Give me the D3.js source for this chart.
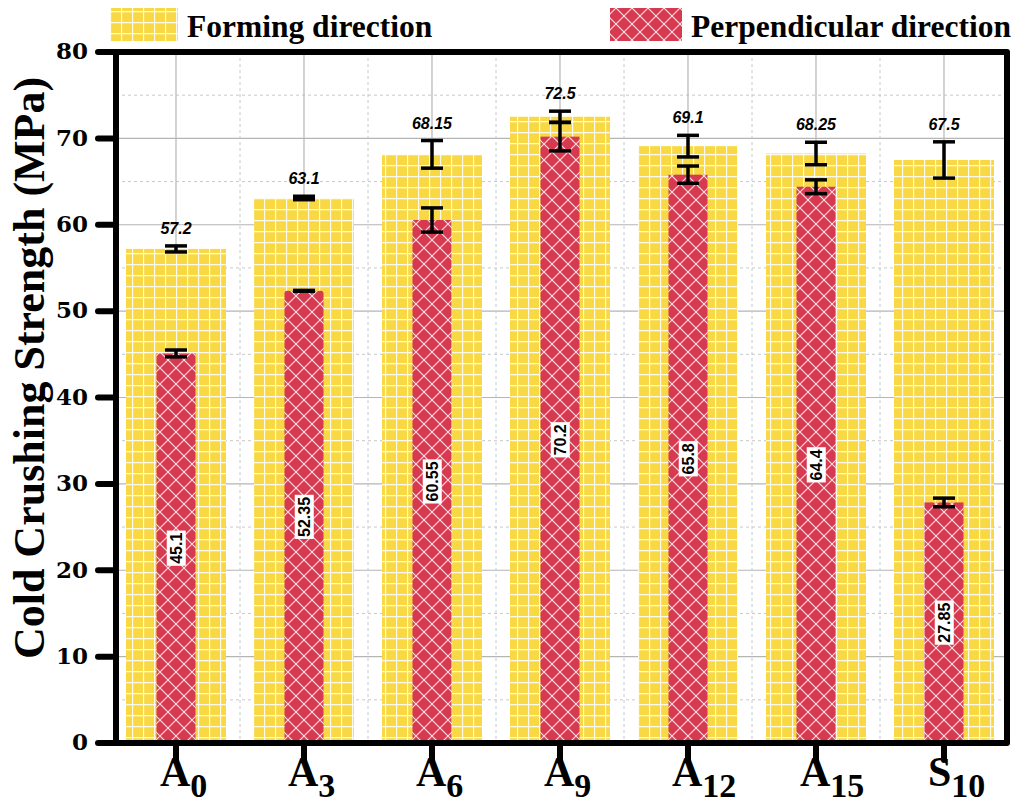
<!DOCTYPE html>
<html>
<head>
<meta charset="utf-8">
<script src="https://cdn.jsdelivr.net/npm/d3@7"></script>
<style>
  body { margin: 0; background: #fff; }
  svg { display: block; }
</style>
</head>
<body>
<div id="chart"></div>
<script>
// data
const categories = ["A0", "A3", "A6", "A9", "A12", "A15", "S10"];
const catLetter = ["A", "A", "A", "A", "A", "A", "S"];
const catSub = ["0", "3", "6", "9", "12", "15", "10"];
const forming = [57.2, 63.1, 68.15, 72.5, 69.1, 68.25, 67.5];
const formingErr = [0.35, 0.2, 1.6, 0.65, 1.25, 1.3, 2.1];
const perpendicular = [45.1, 52.35, 60.55, 70.2, 65.8, 64.4, 27.85];
const perpErr = [0.4, 0.05, 1.4, 1.65, 1.0, 0.8, 0.5];
const yTicks = [0, 10, 20, 30, 40, 50, 60, 70, 80];

var width = 1016, height = 808;
var plot = {left: 116, right: 1007, top: 52, bottom: 743};

var yellow = "#F8D944", red = "#D73A50";

var svg = d3.select("#chart").append("svg")
    .attr("width", width)
    .attr("height", height);

var x = d3.scaleBand().domain(categories).range([112, 1008]).padding(0);
var y = d3.scaleLinear().domain([0, 80]).range([plot.bottom, plot.top]);

// patterns
var defs = svg.append("defs");
var pg = defs.append("pattern").attr("id", "grid").attr("patternUnits", "userSpaceOnUse")
    .attr("width", 11).attr("height", 11);
pg.append("rect").attr("width", 11).attr("height", 11).attr("fill", yellow);
pg.append("path").attr("d", "M0,0.5H11M0.5,0V11").attr("stroke", "#fff").attr("stroke-width", 1.3).attr("opacity", 0.9);

var s = 16;
var ph = defs.append("pattern").attr("id", "hatch").attr("patternUnits", "userSpaceOnUse")
    .attr("width", s).attr("height", s);
ph.append("rect").attr("width", s).attr("height", s).attr("fill", red);
ph.append("path")
    .attr("d", `M0,0L${s},${s}M${s},0L0,${s}M${-s/2},${s/2}L${s/2},${1.5*s}M${s/2},${-s/2}L${1.5*s},${s/2}M${s/2},${1.5*s}L${1.5*s},${s/2}M${-s/2},${s/2}L${s/2},${-s/2}`)
    .attr("stroke", "#fff").attr("stroke-width", 1.1).attr("opacity", 0.85);

// gridlines
var g = svg.append("g");
g.selectAll(".hmajor").data(yTicks).enter().append("line")
    .attr("x1", plot.left).attr("x2", plot.right)
    .attr("y1", d => y(d)).attr("y2", d => y(d))
    .attr("stroke", "#b5b5b5").attr("stroke-width", 1.2);
g.selectAll(".hminor").data(yTicks.slice(0, -1).map(d => d + 5)).enter().append("line")
    .attr("x1", plot.left).attr("x2", plot.right)
    .attr("y1", d => y(d)).attr("y2", d => y(d))
    .attr("stroke", "#c8c8c8").attr("stroke-width", 1).attr("stroke-dasharray", "3,3");
g.selectAll(".vmajor").data(categories).enter().append("line")
    .attr("x1", d => x(d) + x.bandwidth() / 2).attr("x2", d => x(d) + x.bandwidth() / 2)
    .attr("y1", plot.top).attr("y2", plot.bottom)
    .attr("stroke", "#b5b5b5").attr("stroke-width", 1.2);
g.selectAll(".vminor").data(categories.slice(1)).enter().append("line")
    .attr("x1", d => x(d)).attr("x2", d => x(d))
    .attr("y1", plot.top).attr("y2", plot.bottom)
    .attr("stroke", "#c8c8c8").attr("stroke-width", 1).attr("stroke-dasharray", "3,3");

var cx = i => x(categories[i]) + x.bandwidth() / 2;
var wF = 100, wP = 39;

// forming bars
svg.selectAll(".barF").data(forming).enter().append("rect")
    .attr("x", (d, i) => cx(i) - wF / 2)
    .attr("y", d => y(d))
    .attr("width", wF)
    .attr("height", d => plot.bottom - y(d))
    .attr("fill", "url(#grid)");

// perpendicular bars
svg.selectAll(".barP").data(perpendicular).enter().append("rect")
    .attr("x", (d, i) => cx(i) - wP / 2)
    .attr("y", d => y(d))
    .attr("width", wP)
    .attr("height", d => plot.bottom - y(d))
    .attr("fill", "url(#hatch)");

// error bars
function errBars(vals, errs) {
    var eg = svg.append("g").attr("stroke", "#000").attr("stroke-width", 3.5);
    vals.forEach(function(v, i) {
        var c = cx(i), hi = y(v + errs[i]), lo = y(v - errs[i]);
        eg.append("line").attr("x1", c).attr("x2", c).attr("y1", hi).attr("y2", lo);
        eg.append("line").attr("x1", c - 11).attr("x2", c + 11).attr("y1", hi).attr("y2", hi);
        eg.append("line").attr("x1", c - 11).attr("x2", c + 11).attr("y1", lo).attr("y2", lo);
    });
}
errBars(forming, formingErr);
errBars(perpendicular, perpErr);

// value labels above forming bars
svg.selectAll(".lblF").data(forming).enter().append("text")
    .attr("x", (d, i) => cx(i))
    .attr("y", (d, i) => y(d + formingErr[i]) - 12)
    .attr("text-anchor", "middle")
    .style("font-family", "'Liberation Sans', Arial, sans-serif")
    .style("font-weight", "bold").style("font-style", "italic")
    .style("font-size", "16px")
    .text(d => d);

// rotated labels inside perpendicular bars
perpendicular.forEach(function(v, i) {
    var lg = svg.append("g")
        .attr("transform", "translate(" + cx(i) + "," + ((y(v) + plot.bottom) / 2) + ") rotate(-90)");
    var t = lg.append("text")
        .attr("text-anchor", "middle").attr("dy", "0.36em")
        .style("font-family", "'Liberation Sans', Arial, sans-serif")
        .style("font-size", "16px").style("font-weight", "bold")
        .text(v);
    var bb = t.node().getBBox();
    lg.insert("rect", "text")
        .attr("x", bb.x - 2).attr("y", bb.y - 1)
        .attr("width", bb.width + 4).attr("height", bb.height + 2)
        .attr("fill", "#fff");
});

// frame
svg.append("path")
    .attr("d", "M" + plot.left + "," + plot.bottom + "V" + plot.top + "H" + plot.right + "V" + plot.bottom + "Z")
    .attr("fill", "none").attr("stroke", "#000").attr("stroke-width", 6).attr("stroke-linejoin", "round");

// y axis ticks + labels
svg.selectAll(".ytick").data(yTicks).enter().append("line")
    .attr("x1", plot.left - 18).attr("x2", plot.left)
    .attr("y1", d => y(d)).attr("y2", d => y(d))
    .attr("stroke", "#000").attr("stroke-width", 6).attr("stroke-linecap", "round");
svg.selectAll(".ylbl").data(yTicks).enter().append("text")
    .attr("x", 88).attr("y", d => y(d)).attr("dy", "0.32em")
    .attr("text-anchor", "end")
    .style("font-family", "'DejaVu Serif', Georgia, serif")
    .style("font-weight", "bold").style("font-size", "23px")
    .text(d => d);

// x axis ticks + labels
svg.selectAll(".xtick").data(categories).enter().append("line")
    .attr("x1", d => x(d) + x.bandwidth() / 2).attr("x2", d => x(d) + x.bandwidth() / 2)
    .attr("y1", plot.bottom).attr("y2", plot.bottom + 17)
    .attr("stroke", "#000").attr("stroke-width", 6).attr("stroke-linecap", "round");
categories.forEach(function(c, i) {
    var t = svg.append("text")
        .attr("x", cx(i) - 16).attr("y", 786)
        .style("font-family", "'Liberation Serif', 'Times New Roman', serif")
        .style("font-weight", "bold");
    t.append("tspan").style("font-size", "42px").text(catLetter[i]);
    t.append("tspan").attr("dy", 11).style("font-size", "34px").text(catSub[i]);
});

// y axis title
svg.append("text")
    .attr("transform", "translate(44,368) rotate(-90)")
    .attr("text-anchor", "middle")
    .style("font-family", "'Liberation Serif', 'Times New Roman', serif")
    .style("font-weight", "bold").style("font-size", "44px")
    .text("Cold Crushing Strength (MPa)");

// legend
var legend = [{label: "Forming direction", fill: "url(#grid)", x: 110, w: 68},
              {label: "Perpendicular direction", fill: "url(#hatch)", x: 610, w: 72}];
legend.forEach(function(l) {
    svg.append("rect").attr("x", l.x).attr("y", 8).attr("width", l.w).attr("height", 33).attr("fill", l.fill);
    svg.append("text").attr("x", l.x + l.w + 9).attr("y", 37)
        .style("font-family", "'Liberation Serif', 'Times New Roman', serif")
        .style("font-weight", "bold").style("font-size", "31.5px")
        .text(l.label);
});
</script>
</body>
</html>
